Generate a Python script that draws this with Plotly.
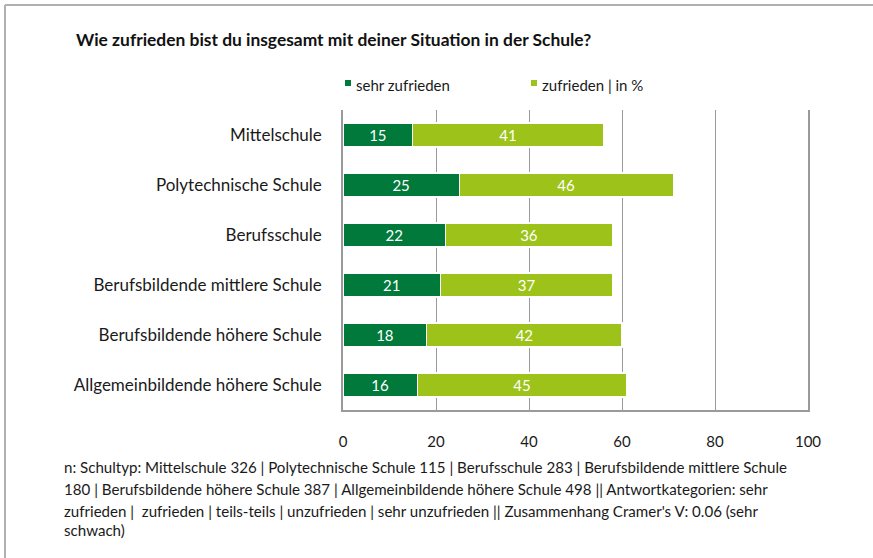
import plotly.graph_objects as go

categories = ["Mittelschule", "Polytechnische Schule", "Berufsschule",
              "Berufsbildende mittlere Schule", "Berufsbildende höhere Schule",
              "Allgemeinbildende höhere Schule"]
sehr_zufrieden = [15, 25, 22, 21, 18, 16]
zufrieden = [41, 46, 36, 37, 42, 45]
series_names = ["sehr zufrieden", "zufrieden | in %"]
x_ticks = [0, 20, 40, 60, 80, 100]

title_text = "Wie zufrieden bist du insgesamt mit deiner Situation in der Schule?"
footnote_lines = [
    "n: Schultyp: Mittelschule 326 | Polytechnische Schule 115 | Berufsschule 283 | Berufsbildende mittlere Schule",
    "180 | Berufsbildende höhere Schule 387 | Allgemeinbildende höhere Schule 498 || Antwortkategorien: sehr",
    "zufrieden |  zufrieden | teils-teils | unzufrieden | sehr unzufrieden || Zusammenhang Cramer's V: 0.06 (sehr",
    "schwach)",
]

DARK = "#00793B"
LIGHT = "#9DC31A"
FONT = "Lato"
W, H = 873, 558
L, R, T, B = 343, 808, 110, 410

def px(x):
    return (x - L) / (R - L)

def py(y):
    return (B - y) / (B - T)

fig = go.Figure()
for vals, col, name in [(sehr_zufrieden, DARK, series_names[0]), (zufrieden, LIGHT, series_names[1])]:
    fig.add_trace(go.Bar(
        y=categories, x=vals, orientation="h", name=name,
        marker=dict(color=col, line=dict(color="white", width=1.2)),
        text=[str(v) for v in vals], textposition="inside",
        insidetextanchor="middle", constraintext="none",
        textfont=dict(color="white", size=15, family=FONT),
        showlegend=False, hoverinfo="x+y",
    ))

fig.update_layout(
    width=W, height=H, barmode="stack", bargap=0.52,
    margin=dict(l=L, r=W - R, t=T, b=H - B, pad=0),
    paper_bgcolor="white", plot_bgcolor="white",
    font=dict(family=FONT, size=15, color="#1a1a1a"),
    xaxis=dict(range=[0, 100], tickvals=x_ticks, showgrid=True,
               gridcolor="#9a9a9a", gridwidth=1.3, zeroline=False,
               showline=True, linecolor="#9a9a9a", linewidth=1.5,
               ticks="", ticklabelstandoff=17,
               tickfont=dict(size=15, color="#1a1a1a", family=FONT)),
    yaxis=dict(autorange="reversed", showgrid=False, zeroline=False,
               showline=True, mirror=True, linecolor="#9a9a9a", linewidth=1.5,
               ticks="", ticklabelstandoff=16,
               tickfont=dict(size=17, color="#1a1a1a", family=FONT)),
)

annotations = [dict(text="<b>" + title_text + "</b>", x=px(74), y=py(40), xref="paper", yref="paper",
                    xanchor="left", yanchor="middle", showarrow=False,
                    font=dict(size=17.4, family=FONT, color="#111"))]
# legend
legend_items = [(series_names[0], DARK, 345, 354), (series_names[1], LIGHT, 531, 540)]
shapes = []
for name, col, sx, tx in legend_items:
    shapes.append(dict(type="rect", xref="paper", yref="paper",
                       x0=px(sx), x1=px(sx + 6), y0=py(86), y1=py(80),
                       fillcolor=col, line=dict(width=0)))
    annotations.append(dict(text=name, x=px(tx), y=py(85), xref="paper", yref="paper",
                            xanchor="left", yanchor="middle", showarrow=False,
                            font=dict(size=15, family=FONT, color="#1a1a1a")))
# footnote
for line, yy in zip(footnote_lines, [467, 489, 511, 530]):
    annotations.append(dict(text=line, x=px(62), y=py(yy), xref="paper", yref="paper",
                            xanchor="left", yanchor="middle", showarrow=False,
                            font=dict(size=15.1, family=FONT, color="#1a1a1a")))
# outer frame
shapes.append(dict(type="line", xref="paper", yref="paper", x0=px(5), x1=px(873), y0=py(5), y1=py(5),
                   line=dict(color="#b0b0b0", width=2)))
shapes.append(dict(type="line", xref="paper", yref="paper", x0=px(5), x1=px(5), y0=py(5), y1=py(558),
                   line=dict(color="#b0b0b0", width=2)))
fig.update_layout(annotations=annotations, shapes=shapes)

fig.write_html("out.html", config={"displayModeBar": False},
               post_script="document.body.style.margin='0px';document.body.style.overflow='hidden';")
